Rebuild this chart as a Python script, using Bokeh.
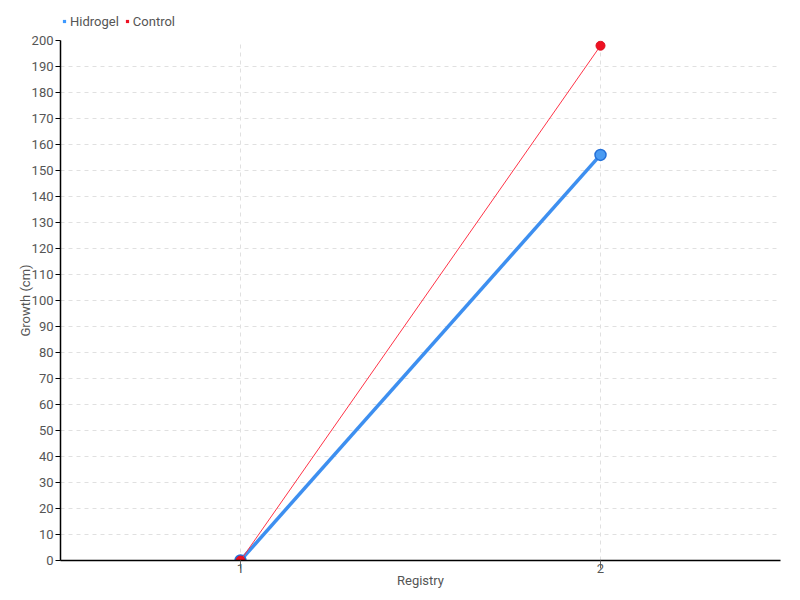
import math
from bokeh.plotting import figure
from bokeh.layouts import column
from bokeh.models import ColumnDataSource, Legend, LegendItem, FixedTicker, SingleIntervalTicker, Range1d
from bokeh.embed import file_html
from bokeh.resources import INLINE

registry = [1, 2]
hidrogel = [0, 156]
control = [0, 198]
tick_labels = {1: "1", 2: "2"}
series_names = ["Hidrogel", "Control"]
series_colors = ["#3d99ff", "#ee1122"]

FONT = "Roboto"
LABEL_COLOR = "#555555"

# ---- legend strip ----
lf = figure(width=800, height=32, output_backend="svg", toolbar_location=None,
            x_range=Range1d(0, 1), y_range=Range1d(0, 1), min_border=0,
            x_axis_location=None, y_axis_location=None)
lf.outline_line_color = None
lf.grid.visible = False
items = []
for name, col in zip(series_names, series_colors):
    r = lf.scatter(x=[0.5], y=[math.nan], marker="square", size=6, fill_color=col, line_color=None)
    items.append(LegendItem(label=name, renderers=[r]))
legend = Legend(items=items, orientation="horizontal", location=(0, 3), background_fill_alpha=0,
                border_line_color=None, padding=0, spacing=4, glyph_width=8, glyph_height=8,
                label_standoff=2, label_height=16, label_text_font=FONT, label_text_font_size="13px",
                label_text_color=LABEL_COLOR, margin=0)
lf.add_layout(legend, "center")

# ---- main chart ----
p = figure(width=800, height=568, output_backend="svg", toolbar_location=None,
           x_range=Range1d(0.5, 2.5), y_range=Range1d(0, 200),
           min_border_left=60, min_border_right=20, min_border_top=8, min_border_bottom=40)
p.outline_line_color = None

src_h = ColumnDataSource(dict(x=registry, y=hidrogel))
src_c = ColumnDataSource(dict(x=registry, y=control))

p.line("x", "y", source=src_h, line_color="#3d8ff0", line_width=3.5)
p.scatter("x", "y", source=src_h, size=11, fill_color="#4a9bf2", line_color="#2470d8", line_width=1.5)
p.line("x", "y", source=src_c, line_color="#ff3347", line_width=1)
p.scatter("x", "y", source=src_c, size=9, fill_color="#ee1122", line_color="#dd1020", line_width=1)

p.xaxis.ticker = FixedTicker(ticks=registry)
p.xaxis.major_label_overrides = tick_labels
p.yaxis.ticker = SingleIntervalTicker(interval=10)
p.yaxis.minor_tick_line_color = None
p.xaxis.minor_tick_line_color = None
for ax in (p.xaxis, p.yaxis):
    ax.axis_line_color = "black"
    ax.axis_line_width = 1.5
    ax.major_label_text_font = FONT
    ax.major_label_text_font_size = "13px"
    ax.major_label_text_color = LABEL_COLOR
    ax.axis_label_text_font = FONT
    ax.axis_label_text_font_size = "13px"
    ax.axis_label_text_font_style = "normal"
    ax.axis_label_text_color = LABEL_COLOR
    ax.major_tick_in = 0
p.yaxis.major_tick_out = 5
p.yaxis.major_tick_line_color = "black"
p.yaxis.major_label_standoff = 2
p.xaxis.major_tick_out = 8
p.xaxis.major_tick_line_color = "#666666"
p.xaxis.major_label_standoff = -5
p.xaxis.axis_label_standoff = -3
p.yaxis.axis_label_standoff = -4
p.xaxis.axis_label = "Registry"
p.yaxis.axis_label = "Growth (cm)"

p.xgrid.grid_line_color = "#e0e0e0"
p.xgrid.grid_line_dash = "4 4"
p.ygrid.grid_line_color = "#e0e0e0"
p.ygrid.grid_line_dash = "4 4"

layout = column(lf, p, spacing=0)
open("out.html", "w").write(file_html(layout, INLINE))
